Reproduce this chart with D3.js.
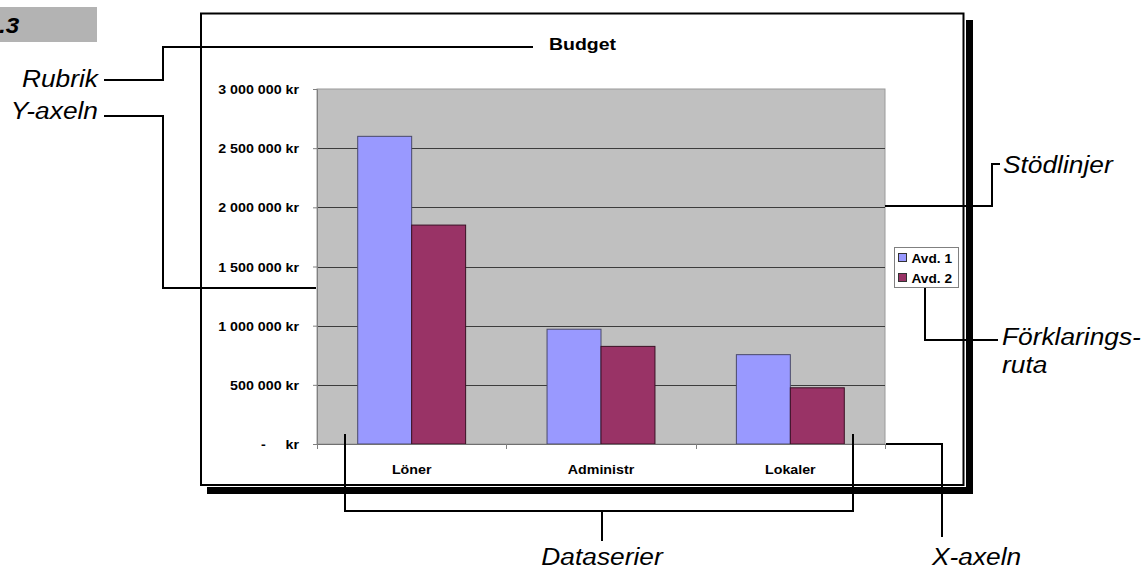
<!DOCTYPE html>
<html>
<head>
<meta charset="utf-8">
<script src="https://cdn.jsdelivr.net/npm/d3@7"></script>
<style>
  html, body { margin: 0; padding: 0; background: #fff; }
  svg { display: block; font-family: "Liberation Sans", Arial, sans-serif; }
  .pre { white-space: pre; }
</style>
</head>
<body>
<svg id="chart" width="1144" height="569"></svg>
<script>
// ---------- data ----------
const categories = ["Löner", "Administr", "Lokaler"];
const seriesNames = ["Avd. 1", "Avd. 2"];
const avd1 = [2600000, 970000, 755000];
const avd2 = [1850000, 825000, 475000];
const yTicks = [0, 500000, 1000000, 1500000, 2000000, 2500000, 3000000];
const yTickLabels = ["-     kr", "500 000 kr", "1 000 000 kr", "1 500 000 kr", "2 000 000 kr", "2 500 000 kr", "3 000 000 kr"];
const chartTitle = "Budget";
const seriesColors = ["#9999ff", "#993366"];

const svg = d3.select("#chart");
const SX = 1.14; // horizontal stretch of the original raster text

function stretched(sel, x, y, sx) {
  return sel.attr("transform", `translate(${x},${y}) scale(${sx || SX},1)`);
}

// ---------- page decoration ----------
svg.append("rect").attr("x", 0).attr("y", 7).attr("width", 97).attr("height", 35).attr("fill", "#b3b3b3");
stretched(svg.append("text").text(".3")
  .attr("font-size", 22).attr("font-weight", "bold").attr("font-style", "italic").attr("fill", "#000"), -1, 33, 1.1);

// chart frame + shadow
svg.append("rect").attr("x", 966).attr("y", 20).attr("width", 7).attr("height", 474).attr("fill", "#000");
svg.append("rect").attr("x", 207).attr("y", 487).attr("width", 766).attr("height", 7).attr("fill", "#000");
svg.append("rect").attr("x", 201).attr("y", 13.5).attr("width", 762.5).attr("height", 471.5)
  .attr("fill", "#fff").attr("stroke", "#000").attr("stroke-width", 2);

// ---------- scales ----------
const y = d3.scaleLinear().domain([0, 3000000]).range([444, 89]);
const x0 = d3.scaleBand().domain(categories).range([317, 885]).paddingInner(0.43).paddingOuter(0.215);
const x1 = d3.scaleBand().domain(seriesNames).range([0, x0.bandwidth()]);

// plot area
svg.append("rect").attr("x", 317).attr("y", y(3000000)).attr("width", 885 - 317).attr("height", y(0) - y(3000000))
  .attr("fill", "#c0c0c0").attr("stroke", "#9a9a9a").attr("stroke-width", 1);

// gridlines
svg.append("g").selectAll("line").data(yTicks.filter(d => d > 0 && d < 3000000)).join("line")
  .attr("x1", 317).attr("x2", 885)
  .attr("y1", d => Math.round(y(d)) + 0.5).attr("y2", d => Math.round(y(d)) + 0.5)
  .attr("stroke", "#3c3c3c").attr("stroke-width", 1);

// bars
const rows = categories.map((c, i) => ({ cat: c, vals: [avd1[i], avd2[i]] }));
svg.append("g").selectAll("g").data(rows).join("g")
  .attr("transform", d => `translate(${x0(d.cat)},0)`)
  .selectAll("rect").data(d => d.vals.map((v, j) => ({ s: seriesNames[j], v, j }))).join("rect")
  .attr("x", d => x1(d.s)).attr("width", x1.bandwidth())
  .attr("y", d => y(d.v)).attr("height", d => y(0) - y(d.v))
  .attr("fill", d => seriesColors[d.j])
  .attr("stroke", d => d.j === 0 ? "#4a4a6a" : "#3a1024").attr("stroke-width", 1);

// y axis
const yAxis = svg.append("g").attr("transform", "translate(317,0)")
  .call(d3.axisLeft(y).tickValues(yTicks).tickSize(4).tickFormat((d, i) => yTickLabels[i]));
yAxis.select(".domain").attr("stroke", "#808080");
yAxis.selectAll(".tick line").attr("stroke", "#808080");
yAxis.selectAll(".tick text").each(function () {
  const t = d3.select(this);
  t.attr("x", null).attr("dy", null).attr("class", "pre")
    .attr("font-size", 12.5).attr("font-weight", "bold").attr("fill", "#000")
    .attr("font-family", "Liberation Sans, Arial, sans-serif").attr("text-anchor", "end");
  stretched(t, -18, 4.5);
});

// x axis
const xAxis = svg.append("g").attr("transform", `translate(0,${y(0)})`)
  .call(d3.axisBottom(x0).tickSize(0).tickPadding(0));
xAxis.select(".domain").attr("stroke", "#707070");
xAxis.selectAll(".tick text").each(function () {
  const t = d3.select(this);
  t.attr("y", null).attr("dy", null)
    .attr("font-size", 12.5).attr("font-weight", "bold").attr("fill", "#000")
    .attr("font-family", "Liberation Sans, Arial, sans-serif").attr("text-anchor", "middle");
  stretched(t, 0, 30);
});
const bounds = d3.range(categories.length + 1).map(i => x0.range()[0] + i * x0.step());
xAxis.append("g").selectAll("line").data(bounds).join("line")
  .attr("x1", d => Math.round(d) + 0.5).attr("x2", d => Math.round(d) + 0.5)
  .attr("y1", 0).attr("y2", 5).attr("stroke", "#808080");

// title
stretched(svg.append("text").text(chartTitle).attr("text-anchor", "middle")
  .attr("font-size", 16.5).attr("font-weight", "bold"), 582.5, 50, 1.18);

// legend
const lg = svg.append("g");
lg.append("rect").attr("x", 894.5).attr("y", 247.5).attr("width", 64).attr("height", 40)
  .attr("fill", "#fff").attr("stroke", "#808080");
seriesNames.forEach((s, i) => {
  lg.append("rect").attr("x", 898.5).attr("y", 253.5 + i * 20).attr("width", 8).attr("height", 8)
    .attr("fill", seriesColors[i]).attr("stroke", "#333");
  stretched(lg.append("text").text(s).attr("font-size", 12).attr("font-weight", "bold"), 911.5, 262.5 + i * 20);
});

// ---------- callouts ----------
const cl = svg.append("g").attr("fill", "none").attr("stroke", "#000").attr("stroke-width", 2);
const calloutPaths = [
  [[104, 80], [163, 80], [163, 47], [533, 47]],                 // Rubrik
  [[104, 116], [163, 116], [163, 288], [316, 288]],             // Y-axeln
  [[885, 206], [992, 206], [992, 164], [1000, 164]],            // Stödlinjer
  [[925, 288], [925, 340], [998, 340]],                         // Förklaringsruta
  [[886, 444], [942, 444], [942, 537]],                         // X-axeln
  [[345, 434], [345, 511], [853, 511], [853, 434]],             // Dataserier bracket
  [[602, 511], [602, 541]]                                      // Dataserier stem
];
cl.selectAll("path").data(calloutPaths).join("path").attr("d", d3.line());

const calloutLabels = [
  { t: "Rubrik", x: 98, y: 87, a: "end" },
  { t: "Y-axeln", x: 98, y: 118.5, a: "end" },
  { t: "Stödlinjer", x: 1003, y: 173, a: "start" },
  { t: "Förklarings-", x: 1002, y: 345, a: "start" },
  { t: "ruta", x: 1002, y: 373, a: "start" },
  { t: "Dataserier", x: 602, y: 565, a: "middle" },
  { t: "X-axeln", x: 932, y: 565, a: "start" }
];
calloutLabels.forEach(d => {
  stretched(svg.append("text").text(d.t).attr("text-anchor", d.a)
    .attr("font-size", 23.5).attr("font-style", "italic").attr("fill", "#000"), d.x, d.y, 1.12);
});
</script>
</body>
</html>
